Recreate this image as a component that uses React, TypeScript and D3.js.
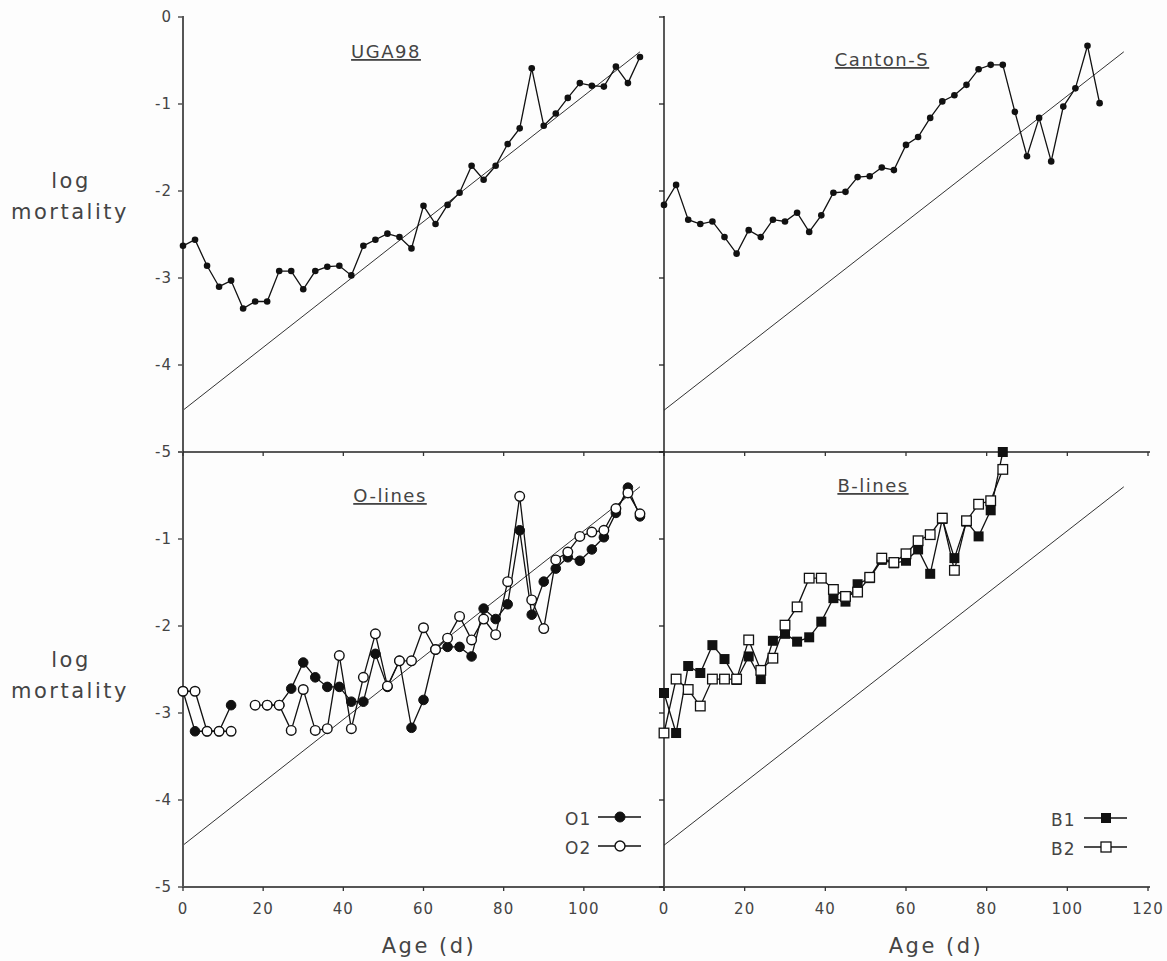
import * as d3 from 'd3'
import React from 'react'

// ages (days) and log mortality
const ugaAges = [0, 3, 6, 9, 12, 15, 18, 21, 24, 27, 30, 33, 36, 39, 42, 45, 48, 51, 54, 57, 60, 63, 66, 69, 72, 75, 78, 81, 84, 87, 90, 93, 96, 99, 102, 105, 108, 111, 114]
const ugaValues = [-2.63, -2.56, -2.86, -3.10, -3.03, -3.35, -3.27, -3.27, -2.92, -2.92, -3.13, -2.92, -2.87, -2.86, -2.97, -2.63, -2.56, -2.49, -2.53, -2.66, -2.17, -2.38, -2.16, -2.02, -1.71, -1.87, -1.71, -1.46, -1.28, -0.59, -1.25, -1.11, -0.93, -0.76, -0.79, -0.80, -0.57, -0.76, -0.46]

const cantonAges = [0, 3, 6, 9, 12, 15, 18, 21, 24, 27, 30, 33, 36, 39, 42, 45, 48, 51, 54, 57, 60, 63, 66, 69, 72, 75, 78, 81, 84, 87, 90, 93, 96, 99, 102, 105, 108]
const cantonValues = [-2.16, -1.93, -2.33, -2.38, -2.35, -2.53, -2.72, -2.45, -2.53, -2.33, -2.35, -2.25, -2.47, -2.28, -2.02, -2.01, -1.84, -1.83, -1.73, -1.76, -1.47, -1.38, -1.16, -0.97, -0.90, -0.78, -0.60, -0.55, -0.55, -1.09, -1.60, -1.16, -1.66, -1.03, -0.82, -0.33, -0.99]

const oAges = [0, 3, 6, 9, 12, 15, 18, 21, 24, 27, 30, 33, 36, 39, 42, 45, 48, 51, 54, 57, 60, 63, 66, 69, 72, 75, 78, 81, 84, 87, 90, 93, 96, 99, 102, 105, 108, 111, 114]
const o1Values = [-2.75, -3.21, -3.21, -3.21, -2.91, null, null, -2.91, -2.91, -2.72, -2.42, -2.59, -2.70, -2.70, -2.87, -2.87, -2.32, -2.70, -2.40, -3.17, -2.85, -2.27, -2.24, -2.24, -2.35, -1.80, -1.92, -1.75, -0.90, -1.87, -1.49, -1.34, -1.21, -1.25, -1.12, -0.98, -0.70, -0.41, -0.74]
const o2Values = [-2.75, -2.75, -3.21, -3.21, -3.21, null, -2.91, -2.91, -2.91, -3.20, -2.73, -3.20, -3.18, -2.34, -3.18, -2.59, -2.09, -2.69, -2.40, -2.40, -2.02, -2.27, -2.14, -1.89, -2.16, -1.92, -2.10, -1.49, -0.51, -1.70, -2.03, -1.24, -1.15, -0.97, -0.92, -0.90, -0.65, -0.47, -0.71]

const bAges = [0, 3, 6, 9, 12, 15, 18, 21, 24, 27, 30, 33, 36, 39, 42, 45, 48, 51, 54, 57, 60, 63, 66, 69, 72, 75, 78, 81, 84]
const b1Values = [-2.77, -3.23, -2.46, -2.54, -2.22, -2.38, -2.62, -2.35, -2.61, -2.17, -2.09, -2.18, -2.13, -1.95, -1.68, -1.72, -1.52, -1.45, -1.24, -1.28, -1.25, -1.12, -1.40, -0.77, -1.22, -0.80, -0.97, -0.67, 0.0]
const b2Values = [-3.23, -2.61, -2.73, -2.92, -2.61, -2.61, -2.61, -2.16, -2.51, -2.37, -1.99, -1.78, -1.45, -1.45, -1.58, -1.66, -1.61, -1.44, -1.22, -1.27, -1.17, -1.02, -0.95, -0.76, -1.36, -0.79, -0.60, -0.56, -0.20]

// reference Gompertz line, same in every panel
const fitAges = [0, 114]
const fitValues = [-4.52, -0.4]

const yTicks = [0, -1, -2, -3, -4, -5]
const xTicks = [0, 20, 40, 60, 80, 100, 120]

const INK = '#111'
const TEXT = '#444'
const FONT = '"DejaVu Sans", Verdana, sans-serif'

const xLeft = d3.scaleLinear().domain([0, 120]).range([183, 664])
const xRight = d3.scaleLinear().domain([0, 120]).range([664, 1148])
const yTop = d3.scaleLinear().domain([-5, 0]).range([452, 17])
const yBottom = d3.scaleLinear().domain([-5, 0]).range([887, 452])

type Pt = [number, number | null]
const zip = (a: number[], v: (number | null)[]): Pt[] => a.map((d, i) => [d, v[i]])

function Series({ x, y, ages, values, marker, size }: any) {
  const pts = zip(ages, values)
  const line = d3
    .line<Pt>()
    .defined(d => d[1] != null)
    .x(d => x(d[0]))
    .y(d => y(d[1] as number))
  return (
    <g>
      <path d={line(pts) || ''} fill="none" stroke={INK} strokeWidth={1.3} />
      {pts
        .filter(d => d[1] != null)
        .map((d, i) => (
          <Marker key={i} cx={x(d[0])} cy={y(d[1] as number)} kind={marker} size={size} />
        ))}
    </g>
  )
}

function Marker({ cx, cy, kind, size }: any) {
  if (kind === 'dot') return <circle cx={cx} cy={cy} r={size} fill={INK} />
  if (kind === 'circle')
    return <circle cx={cx} cy={cy} r={size} fill={INK} stroke={INK} strokeWidth={1} />
  if (kind === 'ocircle')
    return <circle cx={cx} cy={cy} r={size} fill="#fff" stroke={INK} strokeWidth={1.4} />
  if (kind === 'square')
    return <rect x={cx - size} y={cy - size} width={size * 2} height={size * 2} fill={INK} />
  return (
    <rect x={cx - size} y={cy - size} width={size * 2} height={size * 2} fill="#fff" stroke={INK} strokeWidth={1.3} />
  )
}

function Fit({ x, y }: any) {
  const line = d3
    .line<number>()
    .x((d, i) => x(d))
    .y((d, i) => y(fitValues[i]))
  return <path d={line(fitAges) || ''} fill="none" stroke="#333" strokeWidth={1} />
}

function Title({ x, y, text }: any) {
  return (
    <text
      x={x}
      y={y}
      textAnchor="middle"
      fontFamily={FONT}
      fontSize={18}
      letterSpacing={1.5}
      fill={TEXT}
      textDecoration="underline"
    >
      {text}
    </text>
  )
}

function YLabel({ cy }: any) {
  return (
    <g fontFamily={FONT} fontSize={21} letterSpacing={2.5} fill={TEXT} textAnchor="middle">
      <text x={71} y={cy - 10}>log</text>
      <text x={70} y={cy + 21}>mortality</text>
    </g>
  )
}

function Legend({ x, y, labels, markers }: any) {
  return (
    <g>
      {labels.map((l: string, i: number) => (
        <g key={l} transform={`translate(0,${y + i * 29})`}>
          <text x={x} y={8} fontFamily={FONT} fontSize={17} letterSpacing={1} fill={TEXT}>
            {l}
          </text>
          <line x1={x + 33} x2={x + 76} y1={0} y2={0} stroke={INK} strokeWidth={1.3} />
          <Marker cx={x + 55} cy={0} kind={markers[i]} size={5} />
        </g>
      ))}
    </g>
  )
}

export default function App() {
  const tickFont = { fontFamily: FONT, fontSize: 15, letterSpacing: 1, fill: TEXT }
  return (
    <svg
      width={1167}
      height={961}
      style={{ position: 'absolute', left: 0, top: 0, background: '#fdfdfd' }}
    >
      {/* reference lines */}
      <Fit x={xLeft} y={yTop} />
      <Fit x={xRight} y={yTop} />
      <Fit x={xLeft} y={yBottom} />
      <Fit x={xRight} y={yBottom} />

      {/* axes */}
      <line x1={183} x2={183} y1={16} y2={888} stroke="#555" strokeWidth={2} />
      <line x1={664} x2={664} y1={16} y2={888} stroke="#222" strokeWidth={1.5} />
      <line x1={183} x2={1150} y1={452} y2={452} stroke="#222" strokeWidth={1.5} />
      <line x1={183} x2={1150} y1={887} y2={887} stroke="#555" strokeWidth={2.2} />

      {[yTop, yBottom].map((y, k) =>
        yTicks.map(t => (
          <g key={`${k}-${t}`}>
            <line x1={178} x2={183} y1={y(t)} y2={y(t)} stroke="#555" strokeWidth={1.5} />
            <line x1={659} x2={664} y1={y(t)} y2={y(t)} stroke="#222" strokeWidth={1.3} />
          </g>
        ))
      )}
      {yTicks.map(t => (
        <text key={`lt${t}`} x={172} y={yTop(t)} dy="0.35em" textAnchor="end" {...tickFont}>
          {t === 0 ? '0' : `-${-t}`}
        </text>
      ))}
      {yTicks
        .filter(t => t !== 0)
        .map(t => (
          <text key={`lb${t}`} x={172} y={yBottom(t)} dy="0.35em" textAnchor="end" {...tickFont}>
            {`-${-t}`}
          </text>
        ))}

      {[452, 887].map(yy =>
        [xLeft, xRight].map((x, k) =>
          xTicks.map(t => (
            <line key={`${yy}-${k}-${t}`} x1={x(t)} x2={x(t)} y1={yy} y2={yy + 4} stroke="#333" strokeWidth={1.3} />
          ))
        )
      )}
      {xTicks
        .filter(t => t !== 120)
        .map(t => (
          <text key={`xl${t}`} x={xLeft(t)} y={914} textAnchor="middle" {...tickFont}>
            {t}
          </text>
        ))}
      {xTicks.map(t => (
        <text key={`xr${t}`} x={xRight(t)} y={914} textAnchor="middle" {...tickFont}>
          {t}
        </text>
      ))}

      <g fontFamily={FONT} fontSize={21} letterSpacing={2.5} fill={TEXT} textAnchor="middle">
        <text x={429} y={953}>Age (d)</text>
        <text x={936} y={953}>Age (d)</text>
      </g>
      <YLabel cy={198} />
      <YLabel cy={677} />

      {/* titles */}
      <Title x={386} y={58} text="UGA98" />
      <Title x={882} y={66} text="Canton-S" />
      <Title x={390} y={502} text="O-lines" />
      <Title x={873} y={492} text="B-lines" />

      {/* data */}
      <Series x={xLeft} y={yTop} ages={ugaAges} values={ugaValues} marker="dot" size={3.3} />
      <Series x={xRight} y={yTop} ages={cantonAges} values={cantonValues} marker="dot" size={3.3} />
      <Series x={xLeft} y={yBottom} ages={oAges} values={o1Values} marker="circle" size={4.8} />
      <Series x={xLeft} y={yBottom} ages={oAges} values={o2Values} marker="ocircle" size={4.8} />
      <Series x={xRight} y={yBottom} ages={bAges} values={b1Values} marker="square" size={5} />
      <Series x={xRight} y={yBottom} ages={bAges} values={b2Values} marker="osquare" size={4.8} />

      <Legend x={565} y={817} labels={['O1', 'O2']} markers={['circle', 'ocircle']} />
      <Legend x={1051} y={818} labels={['B1', 'B2']} markers={['square', 'osquare']} />
    </svg>
  )
}
